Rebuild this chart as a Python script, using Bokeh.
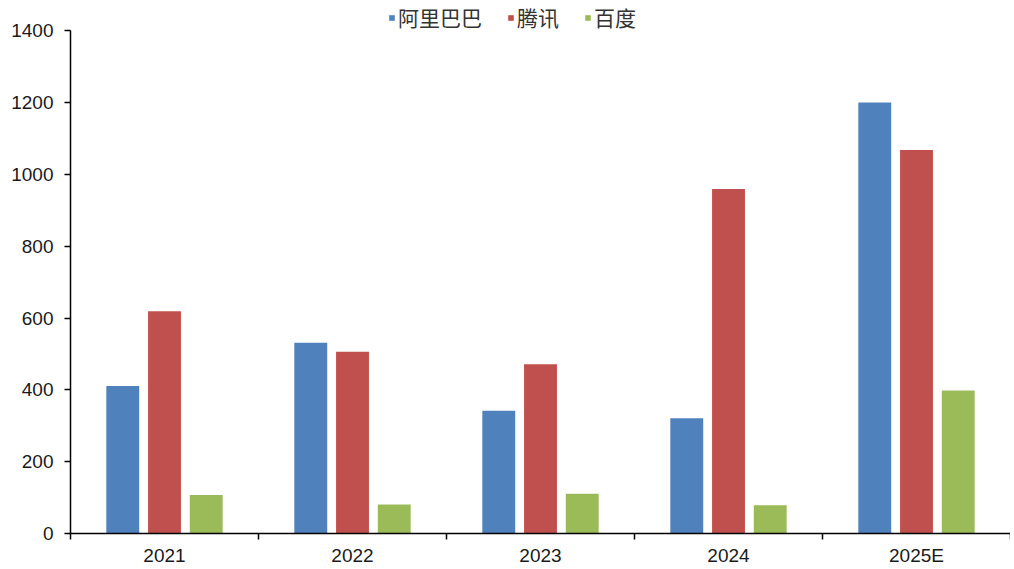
from bokeh.plotting import figure
from bokeh.models import ColumnDataSource, FixedTicker, Legend, LegendItem, Range1d
from bokeh.transform import dodge
from bokeh.embed import file_html
from bokeh.resources import INLINE

years = ["2021", "2022", "2023", "2024", "2025E"]
alibaba = [411, 531, 342, 321, 1200]
tencent = [619, 506, 471, 959, 1068]
baidu = [107, 81, 111, 79, 398]
series_names = ["阿里巴巴", "腾讯", "百度"]
colors = ["#4F81BD", "#C0504D", "#9BBB59"]
y_ticks = [0, 200, 400, 600, 800, 1000, 1200, 1400]

xpos = [i + 0.5 for i in range(len(years))]
src = ColumnDataSource(dict(x=xpos, a=alibaba, t=tencent, b=baidu))

# extra headroom above 1400 holds the legend (axis line is bounded to 0..1400)
p = figure(width=1010, height=568, output_backend="svg", toolbar_location=None,
           x_range=Range1d(0, len(years)), y_range=Range1d(0, 1484),
           min_border_left=70, min_border_right=0, min_border_top=0, min_border_bottom=30)

bw = 0.175
off = 0.222
r1 = p.vbar(x=dodge("x", -off, range=p.x_range), top="a", width=bw, source=src, color=colors[0], line_color=None)
r2 = p.vbar(x=dodge("x", 0, range=p.x_range), top="t", width=bw, source=src, color=colors[1], line_color=None)
r3 = p.vbar(x=dodge("x", off, range=p.x_range), top="b", width=bw, source=src, color=colors[2], line_color=None)

font = "Liberation Sans"

p.xgrid.visible = False
p.ygrid.visible = False
p.outline_line_color = None

xa = p.xaxis[0]
xa.ticker = FixedTicker(ticks=xpos, minor_ticks=list(range(len(years) + 1)))
xa.major_label_overrides = {x: y for x, y in zip(xpos, years)}
xa.major_tick_out = 0
xa.major_tick_in = 0
xa.minor_tick_out = 6
xa.minor_tick_in = 0
xa.axis_line_color = "#000000"
xa.axis_line_width = 1.5
xa.minor_tick_line_color = "#000000"
xa.minor_tick_line_width = 1.5
xa.major_label_text_font = font
xa.major_label_text_font_size = "19px"
xa.major_label_text_color = "#1a1a1a"
xa.major_label_standoff = 5

ya = p.yaxis[0]
ya.ticker = FixedTicker(ticks=y_ticks)
ya.bounds = (y_ticks[0], y_ticks[-1])
ya.major_tick_out = 6
ya.major_tick_in = 0
ya.minor_tick_out = 0
ya.minor_tick_in = 0
ya.axis_line_color = "#000000"
ya.axis_line_width = 1.5
ya.major_tick_line_color = "#000000"
ya.major_tick_line_width = 1.5
ya.major_label_text_font = font
ya.major_label_text_font_size = "19px"
ya.major_label_text_color = "#1a1a1a"
ya.major_label_standoff = 11

legend = Legend(items=[LegendItem(label=series_names[0], renderers=[r1]),
                       LegendItem(label=series_names[1], renderers=[r2]),
                       LegendItem(label=series_names[2], renderers=[r3])],
                orientation="horizontal", location=(318, 501))
legend.glyph_width = 7
legend.glyph_height = 7
legend.label_standoff = 3
legend.spacing = 25
legend.padding = 0
legend.margin = 0
legend.border_line_color = None
legend.background_fill_alpha = 0
legend.label_text_font = "Noto Sans CJK SC"
legend.label_text_font_size = "21px"
legend.label_text_color = "#333333"
legend.label_height = 22
p.add_layout(legend, "center")

open("out.html", "w").write(file_html(p, INLINE))
